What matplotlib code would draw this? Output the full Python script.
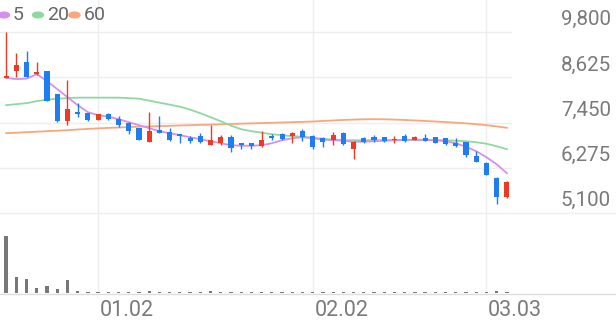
import numpy as np
import matplotlib
matplotlib.use("Agg")
import matplotlib.pyplot as plt
import matplotlib.transforms as mtransforms
from matplotlib.lines import Line2D

plt.rcParams['font.family'] = ['Roboto', 'DejaVu Sans']

# daily candles (open, high, low, close)
opens = [8613, 8787, 9013, 8717, 8795, 8190, 7489, 7730, 7704, 7515,
         7670, 7541, 7429, 7315, 6951, 7255, 7211, 7151, 7055, 7099,
         6884, 6910, 7081, 6925, 6910, 6847, 7107, 7151, 7099, 7237,
         7107, 7055, 7013, 7185, 6762, 7065, 7081, 7081, 6998, 7107,
         6995, 7055, 7081, 7055, 6925, 6951, 6588, 6406, 6027, 5515]
highs = [9800, 9247, 9307, 9013, 8795, 8190, 8553, 7956, 7704, 7680,
         7690, 7619, 7463, 7315, 7730, 7619, 7299, 7151, 7099, 7185,
         7385, 7143, 7125, 6925, 6918, 7229, 7169, 7170, 7200, 7281,
         7125, 7073, 7211, 7200, 6969, 7081, 7125, 7090, 7099, 7169,
         7100, 7169, 7090, 7060, 7055, 6960, 6710, 6420, 6035, 5949]
lows = [8605, 8639, 8639, 8683, 8008, 7460, 7385, 7593, 7500, 7515,
        7520, 7341, 7169, 6995, 6951, 7185, 6977, 6910, 6925, 6910,
        6884, 6866, 6691, 6780, 6780, 6821, 6995, 7000, 6910, 6977,
        6762, 6821, 6884, 6880, 6520, 6910, 6951, 6943, 6910, 6951,
        6990, 6987, 6920, 6880, 6821, 6554, 6432, 6090, 5351, 5500]
closes = [8665, 8943, 8639, 8769, 8008, 7489, 7800, 7678, 7515, 7663,
          7533, 7385, 7237, 7013, 7237, 7185, 6995, 7107, 6969, 6936,
          6995, 7081, 6806, 6884, 6847, 6995, 7055, 7021, 7185, 7081,
          6821, 6951, 7143, 6891, 6951, 6951, 7013, 6969, 7039, 6977,
          7090, 6987, 6925, 6891, 6839, 6606, 6432, 6105, 5523, 5912]

# moving averages as shown
ma5 = [8613, 8579, 8592, 8709, 8527, 8320, 8112, 7904, 7722, 7644,
       7606, 7541, 7463, 7385, 7307, 7229, 7177, 7125, 7073, 7021,
       6969, 6917, 6865, 6852, 6852, 6865, 6917, 6995, 7047, 7073,
       7047, 7008, 6995, 6982, 6956, 6956, 6969, 6982, 6995, 7008,
       7008, 7008, 6995, 6969, 6917, 6826, 6710, 6554, 6372, 6138]
ma20 = [7904, 7930, 7956, 8008, 8047, 8073, 8086, 8099, 8099, 8099,
        8099, 8099, 8086, 8073, 8021, 7969, 7917, 7865, 7787, 7696,
        7592, 7488, 7372, 7281, 7229, 7190, 7151, 7125, 7099, 7086,
        7060, 7034, 7008, 6995, 6995, 6995, 6995, 6995, 6995, 6995,
        6995, 6995, 6995, 6995, 6982, 6969, 6943, 6904, 6839, 6762]
ma60 = [7177, 7190, 7203, 7216, 7229, 7242, 7255, 7273, 7289, 7302,
        7315, 7325, 7335, 7346, 7354, 7361, 7369, 7377, 7385, 7393,
        7400, 7408, 7416, 7424, 7432, 7439, 7447, 7455, 7463, 7471,
        7481, 7494, 7507, 7520, 7530, 7538, 7541, 7538, 7530, 7520,
        7507, 7494, 7481, 7465, 7450, 7432, 7411, 7385, 7354, 7317]

# volume (thousand shares)
volumes = [2480, 715, 615, 215, 300, 172, 572, 100, 60, 55,
           60, 60, 60, 55, 116, 65, 60, 55, 55, 60,
           100, 65, 60, 55, 55, 65, 55, 60, 60, 55,
           55, 55, 55, 65, 60, 60, 55, 55, 55, 55,
           55, 55, 55, 55, 55, 60, 65, 55, 80, 60]

price_ticks = [9800, 8625, 7450, 6275, 5100]
date_idx = [9, 30, 47]
date_labels = ['01.02', '02.02', '03.03']

RED = '#ee3a20'
BLUE = '#1e7df0'
GRID = '#eeeeee'
TXT = '#7a7a7a'

fig = plt.figure(figsize=(6.16, 3.21), dpi=100)
W, H = 616, 321

ax = fig.add_axes([0, 1 - 213.3 / H, 512 / W, 213.3 / H])
axv = fig.add_axes([0, 1 - 293.3 / H, 512 / W, 80 / H])

x = np.arange(len(closes))
o = np.array(opens); c = np.array(closes)
up = c >= o
cols = np.where(up, RED, BLUE)

# price panel
for yv in price_ticks[:-1]:
    ax.axhline(yv, color=GRID, lw=1, zorder=0)
for xi in date_idx:
    ax.axvline(xi, color=GRID, lw=1, zorder=0)
    axv.axvline(xi, color=GRID, lw=1, zorder=0)

ax.plot(x, ma60, color='#f9a67d', lw=1.3, zorder=1)
ax.plot(x, ma20, color='#8fd9a0', lw=1.3, zorder=1)
ax.plot(x, ma5, color='#d590ef', lw=1.3, zorder=1)

ax.vlines(x, lows, highs, colors=cols, lw=1, zorder=2)
body = np.maximum(np.abs(c - o), 40)
ax.bar(x, body, width=0.5, bottom=np.minimum(o, c), color=cols, zorder=3)

ax.set_xlim(-0.6, 49.5)
ax.set_ylim(5100, 9800 + 32 * 25.97)
ax.axis('off')

lab_tr = mtransforms.offset_copy(ax.get_yaxis_transform(), fig=fig, y=5, units='points')
for yv in price_ticks:
    ax.text(611 / 512, yv, f'{yv:,}', transform=lab_tr, ha='right', va='baseline',
            fontsize=14.8, color=TXT, clip_on=False)

# legend
leg = [('5', '#d590ef', 4), ('20', '#8fd9a0', 38), ('60', '#f9a67d', 74.5)]
for name, col, px in leg:
    fig.add_artist(matplotlib.patches.Circle((px / W, 1 - 15 / H), 5.5 / W, color=col,
                                             transform=fig.transFigure))
    fig.text((px + 9) / W, 1 - 15.5 / H, name, ha='left', va='center', fontsize=14,
             color='#666666')

# volume panel
axv.bar(x, volumes, width=0.32, color='#777777', zorder=2)
axv.set_xlim(-0.6, 49.5)
axv.set_ylim(0, 2480 * 80 / 57.6)
axv.axis('off')
for xi, lab in zip(date_idx, date_labels):
    axv.text(xi + 0.15, -0.21, lab, transform=axv.get_xaxis_transform(), ha='left', va='center',
             fontsize=15.5, color=TXT, clip_on=False)

fig.add_artist(Line2D([0, 1], [1 - 213.3 / H] * 2, color='#eeeeee', lw=1, transform=fig.transFigure))
fig.add_artist(Line2D([0, 1], [1 - 293.8 / H] * 2, color='#dddddd', lw=1, transform=fig.transFigure))

fig.savefig('out.png', dpi=100)
